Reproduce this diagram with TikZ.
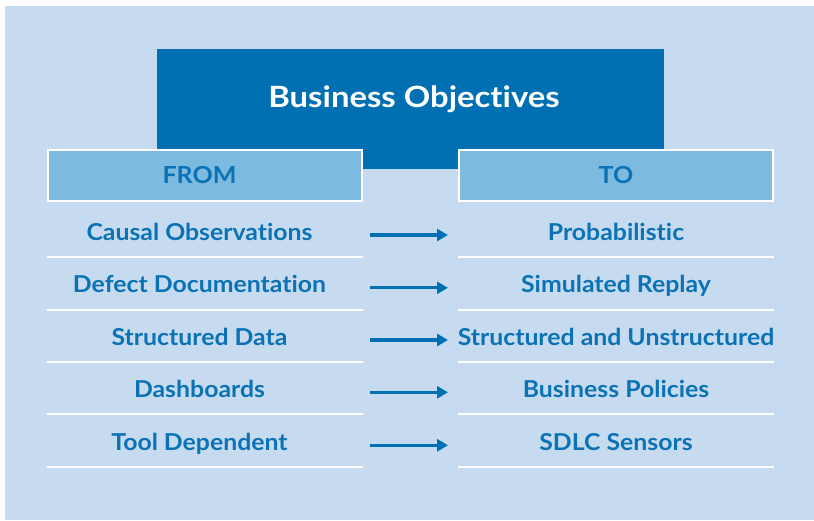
\documentclass[tikz,border=0pt]{standalone}
\usepackage{fontspec}
\setmainfont{Lato}[Ligatures=NoCommon]
\newfontfamily\widefont{Lato}[FakeStretch=1.065,Ligatures=NoCommon]
\newfontfamily\titlefont{Lato}[FakeStretch=1.12,Ligatures=NoCommon]
\usepackage{tikz}
\usetikzlibrary{arrows,arrows.meta,positioning,calc}
\definecolor{paleblue}{HTML}{C6DBEF}
\definecolor{deepblue}{HTML}{0070B3}
\definecolor{skyblue}{HTML}{7CBAE0}
\definecolor{inkblue}{HTML}{0B72B5}
\tikzstyle{banner}  = [fill=deepblue,minimum width=507pt,minimum height=120pt,inner sep=0pt]
\tikzstyle{title}   = [text=white,inner sep=0pt,text height=21pt,text depth=0pt,font=\titlefont\fontsize{29.3}{34}\selectfont\bfseries]
\tikzstyle{header}  = [fill=skyblue,draw=white,line width=2pt,minimum width=314pt,minimum height=51pt,inner sep=0pt,text=inkblue,text height=17pt,text depth=0pt,font=\widefont\fontsize{23.5}{28}\selectfont\bfseries]
\tikzstyle{item}    = [minimum width=314pt,minimum height=50pt,inner sep=0pt,text=inkblue,text height=16.7pt,text depth=0pt,font=\widefont\fontsize{23.3}{28}\selectfont\bfseries]
\tikzstyle{fromcol} = [execute at end node={\hspace{11pt}}]
\tikzstyle{rule}    = [white,line width=2pt]
\tikzstyle{flow}    = [line width=3.3pt,deepblue,arrows={-Triangle[length=11pt,width=12pt]},shorten <=7pt,shorten >=10pt]

\begin{document}
\begin{tikzpicture}[x=1pt,y=-1pt]
                  \useasboundingbox (0,0) rectangle (814,521);
                  \fill[paleblue] (5,6) rectangle (814,520);

                  \node (box)[banner] at (410.5,109) {};
                  \node (obj)[title]  at (414,97.5) {Business Objectives};

                  \node (from)[header,fromcol] at (205,175.5) {FROM};
                  \node (to)[header]          at (616,175.5) {TO};

                  \node (l1)[item,fromcol] at (205,231.7) {Causal Observations};
                  \node (l2)[item,fromcol] at (205,284.5) {Defect Documentation};
                  \node (l3)[item,fromcol] at (205,336.7) {Structured Data};
                  \node (l4)[item,fromcol] at (205,389.0) {Dashboards};
                  \node (l5)[item,fromcol] at (205,442.0) {Tool Dependent};
                  \node (r1)[item] at (616,231.7) {Probabilistic};
                  \node (r2)[item] at (616,284.5) {Simulated Replay};
                  \node (r3)[item] at (616,336.7) {Structured and Unstructured};
                  \node (r4)[item] at (616,389.0) {Business Policies};
                  \node (r5)[item] at (616,442.0) {SDLC Sensors};

                  % separators under each row, as wide as the headers
                  \draw[rule] (from.west |- l1.south) -- (from.east |- l1.south);
                  \draw[rule] (from.west |- l2.south) -- (from.east |- l2.south);
                  \draw[rule] (from.west |- l3.south) -- (from.east |- l3.south);
                  \draw[rule] (from.west |- l4.south) -- (from.east |- l4.south);
                  \draw[rule] (from.west |- l5.south) -- (from.east |- l5.south);
                  \draw[rule] (to.west |- r1.south) -- (to.east |- r1.south);
                  \draw[rule] (to.west |- r2.south) -- (to.east |- r2.south);
                  \draw[rule] (to.west |- r3.south) -- (to.east |- r3.south);
                  \draw[rule] (to.west |- r4.south) -- (to.east |- r4.south);
                  \draw[rule] (to.west |- r5.south) -- (to.east |- r5.south);

                  \draw[flow] ([yshift=-3.3pt]from.east |- l1) -- ([yshift=-3.3pt]to.west |- r1);
                  \draw[flow] ([yshift=-3.3pt]from.east |- l2) -- ([yshift=-3.3pt]to.west |- r2);
                  \draw[flow] ([yshift=-3.3pt]from.east |- l3) -- ([yshift=-3.3pt]to.west |- r3);
                  \draw[flow] ([yshift=-3.3pt]from.east |- l4) -- ([yshift=-3.3pt]to.west |- r4);
                  \draw[flow] ([yshift=-3.3pt]from.east |- l5) -- ([yshift=-3.3pt]to.west |- r5);
            \end{tikzpicture}
\end{document}
